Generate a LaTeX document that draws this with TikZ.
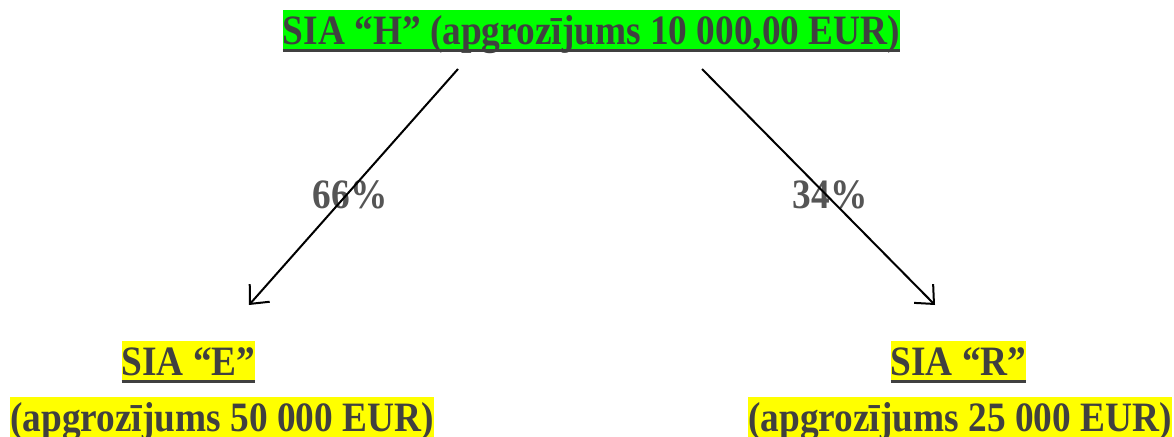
\documentclass[tikz,border=0pt]{standalone}
\usepackage{fontspec}
\setmainfont{Liberation Serif}
\usetikzlibrary{arrows.meta}
\definecolor{txt}{HTML}{404040}
\definecolor{pct}{HTML}{555555}
\definecolor{hlgreen}{HTML}{00FF00}
\definecolor{hlyellow}{HTML}{FFFF00}
\newcommand{\tall}[1]{\scalebox{1}[1.12]{#1}}
\begin{document}
\begin{tikzpicture}[x=0.75pt,y=-0.75pt,
  lbl/.style={inner sep=0pt, outer sep=0pt, text=txt, font=\fontsize{28}{32}\selectfont\bfseries,
    text height=26pt, text depth=3.75pt},
  green box/.style={lbl, fill=hlgreen},
  yellow box/.style={lbl, fill=hlyellow},
  uline/.style={draw=txt, line width=2.4pt},
  pctlbl/.style={inner sep=0pt, text=pct, font=\fontsize{28}{32}\selectfont\bfseries},
  conn/.style={draw=black, line width=1.5pt, -{Straight Barb[length=11pt,width=20pt,line width=1.5pt]}}]
\useasboundingbox (0,0) rectangle (1174,436);
% top
\node[green box] (H) at (591.5,30) {\tall{SIA “H” (apgrozījums 10 000,00 EUR)}};
\draw[uline] ([yshift=-0.6pt]H.south west) -- ([yshift=-0.6pt]H.south east);
% left
\node[yellow box] (E) at (188.5,361) {\tall{SIA “E”}};
\draw[uline] ([yshift=-0.6pt]E.south west) -- ([yshift=-0.6pt]E.south east);
\node[yellow box] (E2) at (222,417) {\tall{(apgrozījums 50 000 EUR)}};
% right
\node[yellow box] (R) at (958.5,361) {\tall{SIA “R”}};
\draw[uline] ([yshift=-0.6pt]R.south west) -- ([yshift=-0.6pt]R.south east);
\node[yellow box] (R2) at (960,417) {\tall{(apgrozījums 25 000 EUR)}};
% percent labels
\node[pctlbl] (p66) at (350,195) {\tall{66\%}};
\node[pctlbl] (p34) at (830,195) {\tall{34\%}};
% arrows
\coordinate (hl) at (458,69);
\coordinate (hr) at (702,69);
\coordinate (el) at (249,305);
\coordinate (rr) at (935,305);
\draw[conn] (hl) -- (el);
\draw[conn] (hr) -- (rr);
\end{tikzpicture}
\end{document}
